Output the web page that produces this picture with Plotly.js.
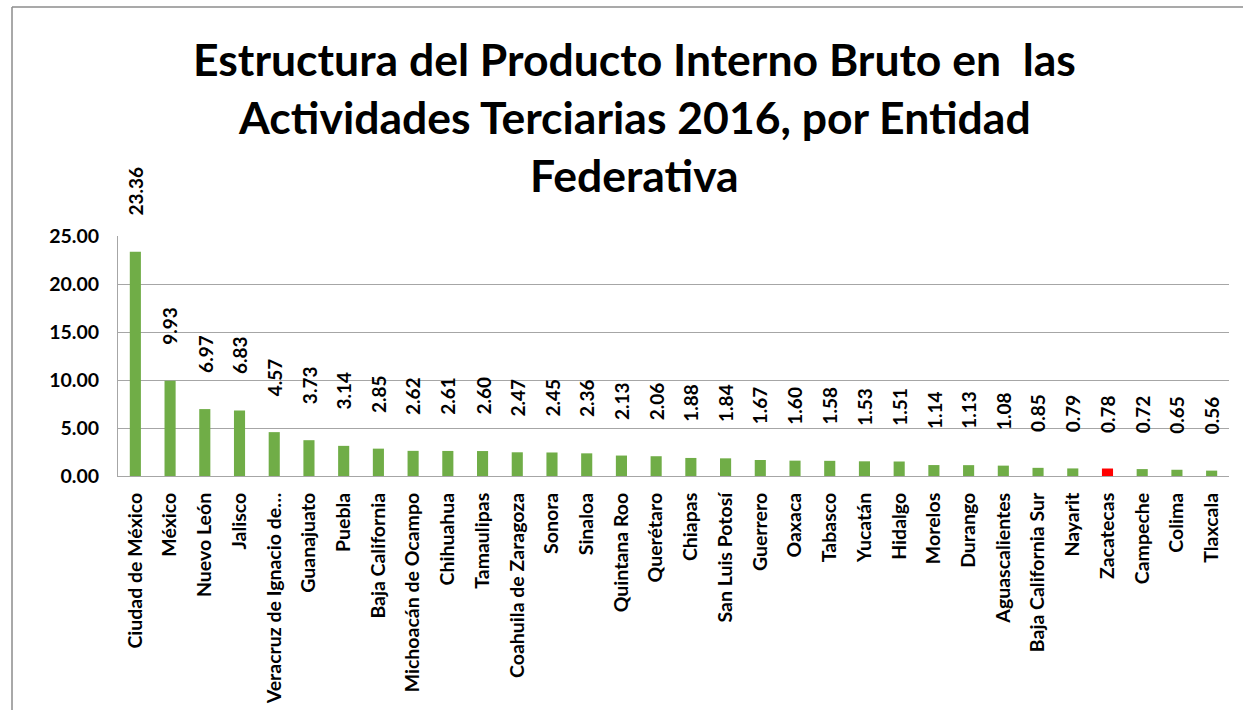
<!DOCTYPE html>
<html>
<head>
<meta charset="utf-8">
<script src="https://cdn.plot.ly/plotly-3.0.1.min.js"></script>
<style>html,body{margin:0;padding:0;background:#fff;}#chart{width:1243px;height:710px;}</style>
</head>
<body>
<div id="chart"></div>
<script>
const categories = ["Ciudad de México","México","Nuevo León","Jalisco","Veracruz de Ignacio de…","Guanajuato","Puebla","Baja California","Michoacán de Ocampo","Chihuahua","Tamaulipas","Coahuila de Zaragoza","Sonora","Sinaloa","Quintana Roo","Querétaro","Chiapas","San Luis Potosí","Guerrero","Oaxaca","Tabasco","Yucatán","Hidalgo","Morelos","Durango","Aguascalientes","Baja California Sur","Nayarit","Zacatecas","Campeche","Colima","Tlaxcala"];
const values = [23.36,9.93,6.97,6.83,4.57,3.73,3.14,2.85,2.62,2.61,2.60,2.47,2.45,2.36,2.13,2.06,1.88,1.84,1.67,1.60,1.58,1.53,1.51,1.14,1.13,1.08,0.85,0.79,0.78,0.72,0.65,0.56];
const highlight = "Zacatecas";
const titleLines = ["Estructura del Producto Interno Bruto en  las","Actividades Terciarias 2016, por Entidad","Federativa"];
const yTicks = [0,5,10,15,20,25];

const FONT = "Lato, 'Open Sans', sans-serif";
const colors = categories.map(c => c === highlight ? "#FF0000" : "#70AD47");

const trace = {
  type: "bar",
  x: categories,
  y: values,
  marker: {color: colors},
  hoverinfo: "x+y"
};

const annotations = categories.map((c, i) => ({
  x: c, y: values[i], xref: "x", yref: "y",
  text: values[i].toFixed(2),
  showarrow: false, textangle: -90,
  yanchor: "bottom", xanchor: "center", yshift: 34,
  font: {family: FONT, size: 19, color: "#000", weight: "bold"}
}));

const titleY = [1.74, 1.498, 1.257];
titleLines.forEach((t, i) => annotations.push({
  x: 0.465, xref: "paper", y: titleY[i], yref: "paper",
  xanchor: "center", yanchor: "middle", showarrow: false,
  text: "<b>" + t + "</b>",
  font: {family: FONT, size: 44.5, color: "#000"}
}));

const layout = {
  width: 1243, height: 710,
  margin: {l: 118, r: 14, t: 236, b: 234},
  paper_bgcolor: "#fff", plot_bgcolor: "#fff",
  showlegend: false,
  bargap: 0.68,
  font: {family: FONT, color: "#000"},
  xaxis: {
    type: "category",
    tickangle: -90,
    tickfont: {family: FONT, size: 19.5, color: "#000", weight: "bold"},
    showline: true, linecolor: "#a6a6a6", linewidth: 1,
    ticks: "", ticklabelstandoff: 8,
    showgrid: false, fixedrange: true
  },
  yaxis: {
    range: [0, 25],
    tickvals: yTicks,
    tickformat: ".2f",
    tickfont: {family: FONT, size: 19.5, color: "#000", weight: "bold"},
    showline: true, linecolor: "#a6a6a6", linewidth: 1,
    gridcolor: "#a6a6a6", gridwidth: 1,
    zeroline: false,
    ticks: "", ticklabelstandoff: 14,
    fixedrange: true
  },
  annotations: annotations,
  shapes: [
    {type: "line", xref: "paper", yref: "paper", x0: -0.0954, x1: 1.2, y0: 1.954, y1: 1.954, line: {color: "#8c8c8c", width: 1.5}},
    {type: "line", xref: "paper", yref: "paper", x0: -0.0954, x1: -0.0954, y0: 1.954, y1: -1.2, line: {color: "#8c8c8c", width: 1.5}}
  ]
};

Plotly.newPlot("chart", [trace], layout, {displayModeBar: false, staticPlot: true});
</script>
</body>
</html>
